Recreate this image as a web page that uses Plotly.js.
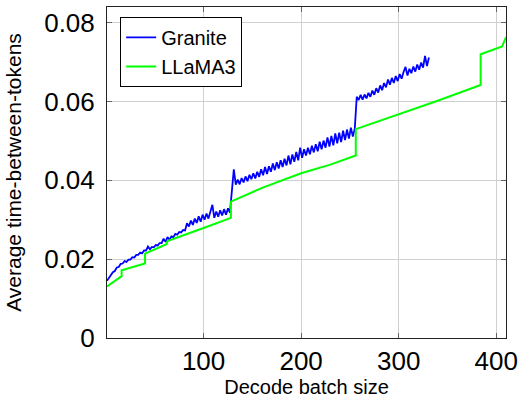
<!DOCTYPE html>
<html>
<head>
<meta charset="utf-8">
<script src="https://cdn.plot.ly/plotly-3.0.1.min.js"></script>
<style>html,body{margin:0;padding:0;background:#fff;}#chart{width:521px;height:398px;}</style>
</head>
<body>
<div id="chart"></div>
<script>
// Granite: decode batch size (x) vs average time-between-tokens (y)
const graniteX = [
  1,3,5,7,9,11,13,15,17,19,21,23,25,27,29,31,33,35,37,39,41,43,45,47,49,51,53,55,57,59,61,63,
  65,67,69,71,73,75,77,79,81,83,85,87,89,91,93,95,97,99,101,103,105,107,109,111,113,115,117,119,121,123,125,127,
  129,131,133,135,137,139,141,143,145,147,149,151,153,155,157,159,161,163,165,167,169,171,173,175,177,179,181,183,185,187,189,191,
  193,195,197,199,201,203,205,207,209,211,213,215,217,219,221,223,225,227,229,231,233,235,237,239,241,243,245,247,249,251,253,255,
  257,259,261,263,265,267,269,271,273,275,277,279,281,283,285,287,289,291,293,295,297,299,301,303,305,307,309,311,313,315,317,319,
  321,323,325,327,329,331
];
const graniteY = [
  0.0145,0.0153,0.0158,0.0167,0.0170,0.0179,0.0180,0.0188,0.0189,0.0195,0.0193,0.0199,0.0199,0.0205,0.0204,0.0211,
  0.0211,0.0217,0.0215,0.0222,0.0222,0.0232,0.0225,0.0231,0.0230,0.0236,0.0235,0.0241,0.0241,0.0252,0.0244,0.0256,
  0.0249,0.0258,0.0256,0.0264,0.0262,0.0269,0.0268,0.0274,0.0273,0.0291,0.0283,0.0298,0.0287,0.0303,0.0292,0.0309,
  0.0295,0.0313,0.0300,0.0316,0.0303,0.0318,0.0338,0.0305,0.0321,0.0308,0.0324,0.0311,0.0327,0.0313,0.0329,0.0318,
  0.0385,0.0428,0.0389,0.0402,0.0390,0.0406,0.0395,0.0410,0.0398,0.0414,0.0403,0.0418,0.0405,0.0422,0.0409,0.0428,
  0.0413,0.0434,0.0416,0.0436,0.0422,0.0443,0.0426,0.0446,0.0430,0.0451,0.0434,0.0455,0.0438,0.0463,0.0441,0.0466,
  0.0447,0.0472,0.0451,0.0483,0.0457,0.0479,0.0463,0.0483,0.0466,0.0488,0.0471,0.0492,0.0474,0.0498,0.0479,0.0501,
  0.0483,0.0509,0.0486,0.0513,0.0489,0.0519,0.0494,0.0521,0.0497,0.0526,0.0502,0.0529,0.0506,0.0534,0.0511,0.0532,
  0.0612,0.0604,0.0617,0.0605,0.0618,0.0608,0.0622,0.0612,0.0628,0.0617,0.0634,0.0623,0.0641,0.0629,0.0647,0.0636,
  0.0656,0.0643,0.0660,0.0647,0.0665,0.0652,0.0670,0.0658,0.0675,0.0688,0.0666,0.0683,0.0672,0.0689,0.0676,0.0694,
  0.0681,0.0699,0.0686,0.0716,0.0690,0.0712
];

// LLaMA3
const llamaX = [1, 16, 16, 40, 40, 62, 63, 80, 100, 128, 128, 160, 200, 230, 256, 256, 300, 340, 384, 384, 406, 410];
const llamaY = [0.0131, 0.0157, 0.0172, 0.0189, 0.0214, 0.0238, 0.0246, 0.0262, 0.0279, 0.0305, 0.0346, 0.0381,
                0.0418, 0.0440, 0.0463, 0.0530, 0.0567, 0.0602, 0.0642, 0.0720, 0.0740, 0.0763];

const xTicks = [100, 200, 300, 400];
const yTicks = [0, 0.02, 0.04, 0.06, 0.08];
const yTickText = ['0', '0.02', '0.04', '0.06', '0.08'];

const FONT = 'Liberation Sans, Arial, Helvetica, sans-serif';

const traces = [
  {x: graniteX, y: graniteY, type: 'scatter', mode: 'lines', name: 'Granite',
   line: {color: '#0000ff', width: 1.8}},
  {x: llamaX, y: llamaY, type: 'scatter', mode: 'lines', name: 'LLaMA3',
   line: {color: '#00ff00', width: 2}}
];

const axisCommon = {
  showline: true, linecolor: '#222', linewidth: 1, mirror: 'ticks',
  ticks: 'inside', ticklen: 5, tickcolor: '#666', tickwidth: 1,
  showgrid: true, gridcolor: '#d0d0d0', gridwidth: 1,
  zeroline: false, tickfont: {family: FONT, size: 26, color: '#000'}
};

const layout = {
  width: 521, height: 398,
  margin: {l: 107, r: 15, t: 7, b: 60, pad: 0},
  paper_bgcolor: '#fff', plot_bgcolor: '#fff',
  showlegend: true,
  legend: {x: 0.033, y: 0.97, xanchor: 'left', yanchor: 'top',
           bgcolor: '#fff', bordercolor: '#000', borderwidth: 1,
           font: {family: FONT, size: 20, color: '#000'}, tracegroupgap: 0},
  xaxis: Object.assign({}, axisCommon, {
    range: [1, 410], tickmode: 'array', tickvals: xTicks, ticktext: xTicks.map(String),
    title: {text: 'Decode batch size', font: {family: FONT, size: 20, color: '#000'}, standoff: 8}
  }),
  yaxis: Object.assign({}, axisCommon, {
    range: [0, 0.084], tickmode: 'array', tickvals: yTicks, ticktext: yTickText,
    ticklabelstandoff: 6,
    title: {text: 'Average time-between-tokens', font: {family: FONT, size: 21, color: '#000'}, standoff: 16}
  })
};

Plotly.newPlot('chart', traces, layout, {staticPlot: true, displayModeBar: false});
</script>
</body>
</html>
